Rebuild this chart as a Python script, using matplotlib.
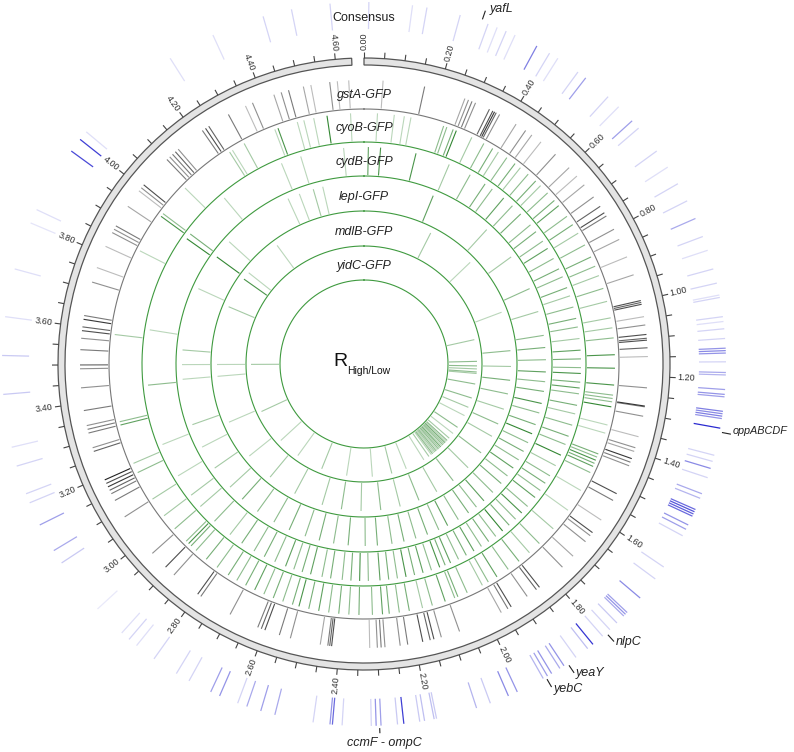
import numpy as np
import matplotlib
matplotlib.use("Agg")
import matplotlib.pyplot as plt
from matplotlib.colors import to_rgba

plt.rcParams['font.family'] = ['Liberation Sans', 'DejaVu Sans']

# genome circle (Mb)
CIRC = 4.67
GENOME = 4.64

# consensus track (blue), position in Mb and intensity
cons_pos = [4.46, 4.52, 4.60, 0.01, 0.10, 0.13, 0.20, 0.26, 0.28, 0.30, 0.32, 0.37, 0.40, 0.42,
            0.47, 0.49, 0.55, 0.58, 0.62, 0.64, 0.70, 0.74, 0.78, 0.82, 0.86, 0.90, 0.93, 0.97,
            1.00, 1.025, 1.03, 1.07, 1.08, 1.095, 1.115, 1.135, 1.14, 1.145, 1.163, 1.185, 1.19,
            1.22, 1.23, 1.235, 1.265, 1.27, 1.275, 1.28, 1.30, 1.357, 1.37, 1.385, 1.405, 1.44,
            1.45, 1.475, 1.48, 1.485, 1.49, 1.51, 1.52, 1.535, 1.61, 1.64, 1.69, 1.73, 1.735,
            1.74, 1.76, 1.78, 1.80, 1.826, 1.84, 1.87, 1.90, 1.91, 1.93, 1.94, 1.95, 2.01, 2.03,
            2.07, 2.10, 2.185, 2.19, 2.21, 2.22, 2.253, 2.266, 2.30, 2.31, 2.32, 2.38, 2.40, 2.405,
            2.44, 2.52, 2.55, 2.58, 2.60, 2.64, 2.66, 2.71, 2.74, 2.795, 2.84, 2.86, 2.88, 2.95,
            3.07, 3.10, 3.16, 3.21, 3.23, 3.29, 3.33, 3.44, 3.52, 3.60, 3.70, 3.80, 3.83, 3.97,
            4.00, 4.02, 4.25, 4.35]
cons_val = [0.2, 0.2, 0.2, 0.2, 0.15, 0.2, 0.2, 0.2, 0.15, 0.2, 0.15, 0.6, 0.2, 0.15,
            0.2, 0.45, 0.2, 0.15, 0.45, 0.2, 0.2, 0.15, 0.2, 0.2, 0.4, 0.2, 0.15, 0.2,
            0.2, 0.15, 0.2, 0.2, 0.15, 0.2, 0.2, 0.5, 0.55, 0.5, 0.2, 0.4, 0.35,
            0.45, 0.5, 0.45, 0.6, 0.55, 0.6, 0.5, 1.0, 0.2, 0.2, 0.55, 0.2, 0.4,
            0.35, 0.7, 0.8, 0.75, 0.7, 0.5, 0.45, 0.2, 0.2, 0.2, 0.55, 0.45, 0.5,
            0.4, 0.25, 0.2, 0.2, 0.95, 0.3, 0.2, 0.5, 0.4, 0.5, 0.45, 0.35, 0.5, 0.55,
            0.25, 0.35, 0.25, 0.3, 0.3, 0.25, 0.9, 0.25, 0.45, 0.5, 0.2, 0.2, 0.7, 0.5,
            0.2, 0.4, 0.45, 0.4, 0.2, 0.5, 0.45, 0.2, 0.2, 0.2, 0.15, 0.2, 0.15, 0.1,
            0.25, 0.4, 0.45, 0.2, 0.2, 0.2, 0.15, 0.25, 0.25, 0.15, 0.15, 0.12, 0.15, 0.85,
            0.9, 0.15, 0.15, 0.15]

gsta_pos = [4.43, 4.45, 4.47, 4.51, 4.53, 4.58, 4.60, 4.63, 0.05, 0.16, 0.27, 0.28, 0.29, 0.30,
            0.34, 0.35, 0.355, 0.36, 0.37, 0.42, 0.45, 0.47, 0.50, 0.55, 0.60, 0.63, 0.66, 0.70,
            0.73, 0.75, 0.76, 0.80, 0.83, 0.88, 0.93, 1.00, 1.005, 1.01, 1.043, 1.065, 1.09, 1.10,
            1.105, 1.125, 1.148, 1.23, 1.278, 1.28, 1.305, 1.36, 1.39, 1.40, 1.42, 1.43, 1.44,
            1.52, 1.54, 1.60, 1.64, 1.65, 1.67, 1.72, 1.76, 1.84, 1.85, 1.88, 1.93, 1.94, 1.96,
            2.08, 2.13, 2.15, 2.16, 2.18, 2.22, 2.24, 2.28, 2.29, 2.30, 2.32, 2.42, 2.425, 2.43,
            2.45, 2.53, 2.56, 2.60, 2.61, 2.62, 2.70, 2.79, 2.80, 2.88, 2.91, 2.96, 3.08, 3.13,
            3.15, 3.16, 3.17, 3.18, 3.19, 3.27, 3.28, 3.32, 3.33, 3.34, 3.38, 3.44, 3.49, 3.50,
            3.54, 3.57, 3.59, 3.60, 3.62, 3.63, 3.72, 3.76, 3.82, 3.86, 3.87, 3.88, 3.94, 3.99,
            4.00, 4.01, 4.10, 4.11, 4.12, 4.13, 4.14, 4.22, 4.23, 4.24, 4.30, 4.35, 4.37]
gsta_val = [0.4, 0.5, 0.6, 0.4, 0.3, 0.5, 0.3, 0.3, 0.3, 0.6, 0.4, 0.5, 0.6, 0.5,
            0.7, 0.8, 0.9, 0.7, 0.5, 0.4, 0.5, 0.4, 0.3, 0.5, 0.4, 0.3, 0.4, 0.5,
            0.7, 0.8, 0.6, 0.5, 0.4, 0.3, 0.4, 0.8, 0.7, 0.8, 0.3, 0.5, 0.8, 0.7,
            0.8, 0.7, 0.3, 0.5, 0.9, 0.6, 0.5, 0.3, 0.5, 0.4, 0.9, 0.6, 0.5,
            0.8, 0.6, 0.3, 0.8, 0.5, 0.5, 0.4, 0.5, 0.8, 0.7, 0.5, 0.8, 0.6, 0.4,
            0.5, 0.5, 0.8, 0.7, 0.8, 0.6, 0.5, 0.5, 0.6, 0.5, 0.3, 0.8, 0.7, 0.6,
            0.4, 0.5, 0.6, 0.8, 0.7, 0.6, 0.5, 0.6, 0.8, 0.5, 0.8, 0.5, 0.5, 0.6,
            0.6, 0.7, 0.9, 0.8, 1.0, 0.7, 0.5, 0.6, 0.6, 0.5, 0.6, 0.5, 0.5, 0.7, 0.6,
            0.5, 0.8, 0.7, 0.9, 0.6, 0.5, 0.3, 0.3, 0.5, 0.5, 0.6, 0.4, 0.3, 0.5,
            0.8, 0.6, 0.5, 0.6, 0.7, 0.5, 0.6, 0.8, 0.7, 0.6, 0.3, 0.5, 0.6]

cyob_pos = [4.41, 4.47, 4.49, 4.52, 4.56, 4.63, 0.04, 0.09, 0.12, 0.14, 0.24, 0.25, 0.27, 0.28,
            0.33, 0.37, 0.40, 0.42, 0.45, 0.48, 0.50, 0.53, 0.56, 0.58, 0.61, 0.64, 0.66, 0.70,
            0.73, 0.76, 0.80, 0.84, 0.87, 0.90, 0.94, 0.98, 1.03, 1.06, 1.09, 1.14, 1.18, 1.23,
            1.26, 1.27, 1.28, 1.295, 1.35, 1.375, 1.44, 1.45, 1.46, 1.47, 1.48, 1.50, 1.56, 1.63,
            1.70, 1.76, 1.80, 1.84, 1.88, 1.92, 1.95, 1.97, 2.02, 2.05, 2.06, 2.09, 2.13, 2.16,
            2.20, 2.23, 2.26, 2.28, 2.31, 2.35, 2.38, 2.41, 2.44, 2.47, 2.50, 2.53, 2.55, 2.58,
            2.61, 2.64, 2.67, 2.70, 2.73, 2.76, 2.80, 2.84, 2.88, 2.90, 2.91, 2.92, 2.97, 3.02,
            3.08, 3.17, 3.20, 3.32, 3.33, 3.59, 3.85, 3.97, 3.98, 4.08, 4.25, 4.26, 4.30, 4.40]
cyob_val = [0.8, 0.3, 0.3, 0.3, 0.9, 0.3, 0.3, 0.3, 0.3, 0.3, 0.5, 0.5, 0.6, 0.9,
            0.4, 0.5, 0.6, 0.4, 0.5, 0.6, 0.4, 0.5, 0.6, 0.4, 0.5, 0.6, 0.7, 0.5,
            0.6, 0.4, 0.5, 0.6, 0.5, 0.4, 0.5, 0.4, 0.4, 0.4, 0.5, 0.8, 0.8, 0.8,
            0.5, 0.5, 0.5, 0.9, 0.3, 0.3, 0.6, 0.5, 0.8, 0.6, 0.7, 0.5, 0.3, 0.3,
            0.4, 0.5, 0.4, 0.6, 0.5, 0.7, 0.5, 0.4, 0.5, 0.6, 0.5, 0.7, 0.5, 0.4,
            0.6, 0.5, 0.6, 0.7, 0.5, 0.6, 0.5, 0.6, 0.5, 0.7, 0.6, 0.8, 0.6, 0.5,
            0.6, 0.5, 0.7, 0.6, 0.5, 0.6, 0.5, 0.6, 0.5, 0.6, 0.8, 0.5, 0.5, 0.4,
            0.4, 0.5, 0.4, 0.7, 0.5, 0.4, 0.3, 0.8, 0.5, 0.3, 0.4, 0.3, 0.4, 0.3]

cydb_pos = [4.45, 4.60, 0.015, 0.057, 0.18, 0.30, 0.38, 0.44, 0.47, 0.52, 0.56, 0.60, 0.65, 0.68,
            0.72, 0.75, 0.79, 0.83, 0.86, 0.90, 0.93, 0.97, 1.01, 1.04, 1.08, 1.12, 1.15, 1.18,
            1.20, 1.23, 1.25, 1.27, 1.31, 1.34, 1.38, 1.42, 1.45, 1.49, 1.53, 1.57, 1.60, 1.63,
            1.66, 1.70, 1.73, 1.76, 1.79, 1.82, 1.85, 1.88, 1.91, 1.94, 1.97, 2.00, 2.03, 2.05,
            2.07, 2.10, 2.13, 2.16, 2.19, 2.22, 2.25, 2.28, 2.32, 2.35, 2.38, 2.41, 2.45, 2.48,
            2.52, 2.55, 2.58, 2.61, 2.65, 2.69, 2.73, 2.78, 2.83, 2.90, 2.97, 3.02, 3.10, 3.22,
            3.43, 3.62, 3.96, 3.98, 4.15, 4.38]
cydb_val = [0.3, 0.3, 0.7, 0.8, 0.8, 0.4, 0.5, 0.6, 0.5, 0.7, 0.5, 0.6, 0.5, 0.6,
            0.5, 0.7, 0.5, 0.6, 0.5, 0.6, 0.4, 0.5, 0.6, 0.5, 0.4, 0.7, 0.6, 0.5,
            0.8, 0.6, 0.7, 0.5, 0.6, 0.4, 0.5, 0.6, 0.5, 0.9, 0.4, 0.5, 0.6, 0.5,
            0.7, 0.5, 0.8, 0.5, 0.6, 0.9, 0.5, 0.6, 0.5, 0.7, 0.6, 0.5, 0.7, 0.6,
            0.8, 0.5, 0.7, 0.6, 0.8, 0.5, 0.6, 0.7, 0.5, 0.8, 0.6, 0.5, 0.6, 0.5,
            0.7, 0.6, 0.5, 0.7, 0.5, 0.6, 0.5, 0.6, 0.4, 0.5, 0.4, 0.4, 0.3, 0.3,
            0.5, 0.3, 0.9, 0.6, 0.3, 0.3]

lepi_pos = [4.35, 4.40, 4.46, 4.50, 0.29, 0.55, 0.70, 0.85, 0.95, 1.05, 1.10, 1.15, 1.20, 1.24,
            1.28, 1.33, 1.37, 1.42, 1.46, 1.50, 1.54, 1.58, 1.62, 1.66, 1.70, 1.75, 1.80, 1.84,
            1.88, 1.93, 1.98, 2.02, 2.07, 2.12, 2.17, 2.22, 2.28, 2.33, 2.40, 2.46, 2.52, 2.58,
            2.65, 2.72, 2.80, 2.88, 2.95, 3.05, 3.15, 3.25, 3.44, 3.50, 3.56, 3.82, 3.97, 4.05]
lepi_val = [0.3, 0.3, 0.4, 0.3, 0.7, 0.4, 0.4, 0.5, 0.4, 0.5, 0.6, 0.5, 0.7, 0.5,
            0.6, 0.8, 0.5, 0.6, 0.9, 0.5, 0.6, 0.5, 0.7, 0.5, 0.6, 0.5, 0.7, 0.5,
            0.6, 0.5, 0.7, 0.5, 0.6, 0.5, 0.6, 0.5, 0.6, 0.5, 0.6, 0.5, 0.6, 0.5,
            0.6, 0.5, 0.5, 0.6, 0.4, 0.4, 0.3, 0.4, 0.3, 0.3, 0.4, 0.3, 0.9, 0.3]

mdlb_pos = [0.35, 0.60, 0.90, 1.10, 1.18, 1.25, 1.32, 1.40, 1.48, 1.55, 1.65, 1.75, 1.85, 1.95,
            2.05, 2.15, 2.25, 2.35, 2.45, 2.55, 2.70, 2.85, 3.00, 3.20, 3.44, 3.50, 3.80, 3.96,
            4.00, 4.20]
mdlb_val = [0.4, 0.3, 0.3, 0.5, 0.4, 0.6, 0.5, 0.4, 0.5, 0.4, 0.5, 0.4, 0.5, 0.4,
            0.5, 0.4, 0.5, 0.4, 0.5, 0.4, 0.4, 0.4, 0.3, 0.3, 0.3, 0.3, 0.4, 0.8,
            0.3, 0.3]

yidc_pos = [1.006, 1.15, 1.18, 1.20, 1.22, 1.23, 1.30, 1.395, 1.46, 1.52, 1.61, 1.66, 1.70, 1.72,
            1.73, 1.74, 1.75, 1.76, 1.77, 1.78, 1.79, 1.80, 1.81, 1.82, 1.83, 1.84, 1.85, 1.86,
            1.88, 1.92, 2.05, 2.15, 2.28, 2.45, 2.62, 2.80, 2.95, 3.18, 3.50]
yidc_val = [0.4, 0.5, 0.5, 0.4, 0.5, 0.4, 0.5, 0.5, 0.4, 0.3, 0.5, 0.3, 0.4, 0.5,
            0.3, 0.6, 0.4, 0.5, 0.3, 0.6, 0.4, 0.5, 0.3, 0.5, 0.4, 0.3, 0.5, 0.3,
            0.4, 0.3, 0.3, 0.4, 0.3, 0.3, 0.4, 0.3, 0.3, 0.4, 0.4]

# track name, baseline radius, data, colour (radii in pixels from the centre)
tracks = [
    ("gstA-GFP", 255, gsta_pos, gsta_val, "#222222", "#777777"),
    ("cyoB-GFP", 222, cyob_pos, cyob_val, "#1d7a1d", "#3f9a3f"),
    ("cydB-GFP", 188, cydb_pos, cydb_val, "#1d7a1d", "#3f9a3f"),
    ("lepI-GFP", 153, lepi_pos, lepi_val, "#1d7a1d", "#3f9a3f"),
    ("mdlB-GFP", 118, mdlb_pos, mdlb_val, "#1d7a1d", "#3f9a3f"),
    ("yidC-GFP", 84, yidc_pos, yidc_val, "#1d7a1d", "#3f9a3f"),
]

genes = ["yafL", "oppABCDF", "nlpC", "yeaY", "yebC", "ccmF - ompC"]
gene_pos = [0.246, 1.308, 1.79, 1.891, 1.944, 2.303]


def th(mb):
    return np.asarray(mb, dtype=float) / CIRC * 2 * np.pi


def shade(base, vals):
    r, g, b, _ = to_rgba(base)
    return [(r, g, b, v) for v in vals]


W, H = 794, 752
CX, CY, RM = 364, 364, 385
fig = plt.figure(figsize=(W / 100, H / 100), dpi=100)
ax = fig.add_axes([(CX - RM) / W, (H - CY - RM) / H, 2 * RM / W, 2 * RM / H], projection="polar")
ax.set_theta_zero_location("N")
ax.set_theta_direction(-1)
ax.set_ylim(0, RM)
ax.axis("off")

circle = np.linspace(0, 2 * np.pi, 720)

# tracks
for name, r0, pos, val, col, bcol in tracks:
    ax.plot(circle, np.full_like(circle, r0), color=bcol, lw=0.8)
    ax.vlines(th(pos), r0 + 1, r0 + 29, colors=shade(col, val), lw=0.8)
    ax.text(0, r0 + 14, name, ha="center", va="center", fontsize=9, style="italic", color="#222222")

# consensus
ax.vlines(th(cons_pos), 335, 362, colors=shade("#2a2ad0", cons_val), lw=0.9)
ax.text(0, 346, "Consensus", ha="center", va="center", fontsize=9, color="#222222")

# ideogram ring
ax.bar(th(GENOME / 2), 7, width=th(GENOME), bottom=299, color="#e4e4e4", edgecolor="#555555", lw=0.9)
ticks = np.round(np.arange(0, 4.601, 0.05), 2)
ax.vlines(th(ticks), 306, 312, color="#444444", lw=0.8)
for t in np.round(np.arange(0, 4.601, 0.2), 2):
    deg = t / CIRC * 360
    if deg < 180:
        rot, ha = 90 - deg, "left"
    else:
        rot, ha = 270 - deg, "right"
    ax.text(th(t), 314, f"{t:.2f}", rotation=rot, rotation_mode="anchor", ha=ha, va="center",
            fontsize=6.5, color="#333333")

# gene labels with short leaders
offsets = [(4, 2, "left", "center", 9), (2, 3, "left", "center", 7.8), (2, -1, "left", "center", 9),
           (2, -1, "left", "center", 9), (2, -2, "left", "center", 9), (4, -4, "center", "top", 9)]
rtop = [373, 373, 373, 373, 373, 369]
for g, p, (dx, dy, ha, va, fs), r1 in zip(genes, gene_pos, offsets, rtop):
    ax.plot([th(p), th(p)], [365, r1], color="#222222", lw=0.8, clip_on=False)
    ax.annotate(g, xy=(th(p), r1), xytext=(dx, dy), textcoords="offset pixels", ha=ha, va=va,
                fontsize=fs, style="italic", color="#222222", annotation_clip=False)

# centre label
fig.text(333 / W, 1 - 361 / H, "R", fontsize=14, ha="left", va="center", color="#111111")
fig.text(347 / W, 1 - 371 / H, "High/Low", fontsize=7.5, ha="left", va="center", color="#111111")

fig.savefig("out.png", dpi=100)
